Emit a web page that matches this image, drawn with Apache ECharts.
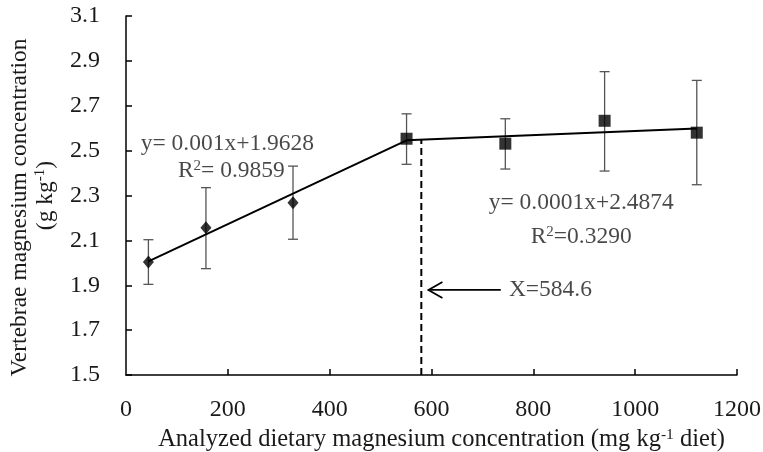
<!DOCTYPE html>
<html>
<head>
<meta charset="utf-8">
<script src="https://cdn.jsdelivr.net/npm/echarts@6/dist/echarts.min.js"></script>
<style>html,body{margin:0;padding:0;background:#fff;}#chart{width:763px;height:452px;}</style>
</head>
<body>
<div id="chart"></div>
<script>
// ---- Data ----
const diamondX = [44, 157, 328];
const diamondY = [2.004, 2.156, 2.268];
const diamondLo = [1.904, 1.974, 2.105];
const diamondHi = [2.103, 2.335, 2.431];

const squareX = [551, 745, 940, 1121];
const squareY = [2.553, 2.531, 2.633, 2.580];
const squareLo = [2.439, 2.418, 2.409, 2.348];
const squareHi = [2.664, 2.642, 2.852, 2.813];

const fit1X = [44, 551];
const fit1Y = [2.006, 2.546];
const fit2X = [551, 1121];
const fit2Y = [2.546, 2.599];

const breakX = [580, 580];
const breakY = [1.5, 2.548];

const arrowFromX = 736;
const arrowToX = 594;
const arrowY = 1.879;

const xTicks = [0, 200, 400, 600, 800, 1000, 1200];
const yTicks = [1.5, 1.7, 1.9, 2.1, 2.3, 2.5, 2.7, 2.9, 3.1];

const annoText = ['y= 0.001x+1.9628', 'R{sup|2}= 0.9859', 'y= 0.0001x+2.4874', 'R{sup|2}=0.3290', 'X=584.6'];
const annoX = [199, 207, 894, 894, 752];
const annoY = [2.529, 2.409, 2.266, 2.115, 1.879];
const annoAlign = ['center', 'center', 'center', 'center', 'left'];

const xName = 'Analyzed dietary magnesium concentration (mg kg{sup|-1} diet)';
const yName = '{l1|Vertebrae magnesium concentration}\n(g kg{sup|-1})';

// ---- Build ----
const FONT = 'Liberation Serif';
const TXT = '#1a1a1a';
const FS = 23.5;
const supStyle = { fontSize: 15, verticalAlign: 'top', fontFamily: FONT, color: TXT };

function zip(xs, ys) { return xs.map((x, i) => [x, ys[i]]); }

const errData = diamondX.map((x, i) => [x, diamondLo[i], diamondHi[i]])
  .concat(squareX.map((x, i) => [x, squareLo[i], squareHi[i]]));

const chart = echarts.init(document.getElementById('chart'), null, { renderer: 'canvas' });

chart.setOption({
  animation: false,
  backgroundColor: '#fff',
  grid: { left: 126, right: 26, top: 16, bottom: 77, containLabel: false, outerBoundsMode: 'none' },
  xAxis: {
    type: 'value', min: 0, max: 1200, interval: 200,
    name: xName, nameLocation: 'middle', nameGap: 50,
    nameTextStyle: { fontFamily: FONT, fontSize: 24.5, color: TXT, padding: [0, 0, 0, 20], rich: { sup: Object.assign({}, supStyle, { fontSize: 15.5 }) } },
    axisLine: { show: true, onZero: false, lineStyle: { color: '#000', width: 1.5 } },
    axisTick: { show: true, inside: true, length: 6, lineStyle: { color: '#000', width: 1.5 }, customValues: xTicks.slice(1) },
    axisLabel: { fontFamily: FONT, fontSize: 24, color: TXT, margin: 23, customValues: xTicks, formatter: v => String(v) },
    splitLine: { show: false }
  },
  yAxis: {
    type: 'value', min: 1.5, max: 3.1,
    name: yName, nameLocation: 'middle', nameGap: 67, nameRotate: 90,
    nameTextStyle: {
      fontFamily: FONT, fontSize: FS, color: TXT, lineHeight: 26, align: 'center',
      rich: {
        sup: Object.assign({}, supStyle, { lineHeight: 26 }),
        l1: { fontFamily: FONT, fontSize: FS, color: TXT, lineHeight: 26, padding: [0, 24, 0, 0] }
      }
    },
    axisLine: { show: true, onZero: false, lineStyle: { color: '#000', width: 1.5 } },
    axisTick: { show: true, inside: true, length: 6, lineStyle: { color: '#000', width: 1.5 }, customValues: yTicks },
    axisLabel: { fontFamily: FONT, fontSize: 24, color: TXT, margin: 26, customValues: yTicks, formatter: v => v.toFixed(1) },
    splitLine: { show: false }
  },
  series: [
    {
      type: 'custom', name: 'err', data: errData, z: 2,
      renderItem: function (params, api) {
        const x = api.value(0);
        const lo = api.coord([x, api.value(1)]);
        const hi = api.coord([x, api.value(2)]);
        const w = 5;
        const st = { stroke: '#555', lineWidth: 1.3 };
        return { type: 'group', children: [
          { type: 'line', shape: { x1: lo[0], y1: lo[1], x2: hi[0], y2: hi[1] }, style: st },
          { type: 'line', shape: { x1: lo[0] - w, y1: lo[1], x2: lo[0] + w, y2: lo[1] }, style: st },
          { type: 'line', shape: { x1: hi[0] - w, y1: hi[1], x2: hi[0] + w, y2: hi[1] }, style: st }
        ]};
      }
    },
    { type: 'line', data: zip(fit1X, fit1Y), symbol: 'none', z: 3, lineStyle: { color: '#000', width: 2 } },
    { type: 'line', data: zip(fit2X, fit2Y), symbol: 'none', z: 3, lineStyle: { color: '#000', width: 2 } },
    { type: 'line', data: zip(breakX, breakY), symbol: 'none', z: 3, lineStyle: { color: '#000', width: 2, type: [7, 4] } },
    {
      type: 'custom', data: [[arrowFromX, arrowToX, arrowY]], z: 3,
      renderItem: function (params, api) {
        const a = api.coord([api.value(0), api.value(2)]);
        const b = api.coord([api.value(1), api.value(2)]);
        const st = { stroke: '#000', lineWidth: 1.8 };
        return { type: 'group', children: [
          { type: 'line', shape: { x1: a[0], y1: a[1], x2: b[0], y2: b[1] }, style: st },
          { type: 'polyline', shape: { points: [[b[0] + 14, b[1] - 8], [b[0], b[1]], [b[0] + 14, b[1] + 8]] }, style: Object.assign({ fill: null }, st) }
        ]};
      }
    },
    { type: 'scatter', data: zip(diamondX, diamondY), symbol: 'diamond', symbolSize: [11, 13], z: 4, itemStyle: { color: '#000' } },
    { type: 'scatter', data: zip(squareX, squareY), symbol: 'rect', symbolSize: 12, z: 4, itemStyle: { color: '#000' } },
    {
      type: 'scatter', symbolSize: 0, z: 5, silent: true,
      data: annoText.map((t, i) => ({
        value: [annoX[i], annoY[i]],
        label: { show: true, position: 'inside', align: annoAlign[i], formatter: t }
      })),
      label: { show: true, fontFamily: FONT, fontSize: FS, color: TXT, rich: { sup: supStyle } }
    }
  ]
});
</script>
</body>
</html>
